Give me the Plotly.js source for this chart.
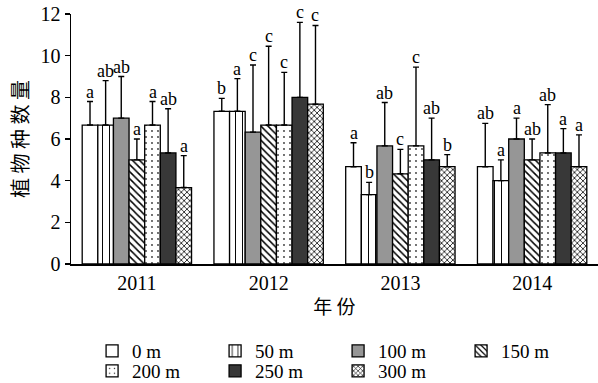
<!DOCTYPE html>
<html>
<head>
<meta charset="utf-8">
<script src="https://cdn.plot.ly/plotly-3.0.1.min.js"></script>
<style>html,body{margin:0;padding:0;background:#fff;}#chart{width:598px;height:383px;}</style>
</head>
<body>
<div id="chart"></div>
<script>
// Categories (years)
var years = ['2011', '2012', '2013', '2014'];
// Series names (distance)
var seriesNames = ['0 m', '50 m', '100 m', '150 m', '200 m', '250 m', '300 m'];
// Mean values
var val0   = [6.67, 7.33, 4.67, 4.67];
var val50  = [6.67, 7.33, 3.33, 4.00];
var val100 = [7.00, 6.33, 5.67, 6.00];
var val150 = [5.00, 6.67, 4.33, 5.00];
var val200 = [6.67, 6.67, 5.67, 5.33];
var val250 = [5.33, 8.00, 5.00, 5.33];
var val300 = [3.67, 7.67, 4.67, 4.67];
// Upper error bar lengths
var err0   = [1.13, 0.62, 1.15, 2.08];
var err50  = [2.13, 1.57, 0.59, 1.00];
var err100 = [2.00, 3.22, 2.08, 1.00];
var err150 = [1.00, 3.78, 1.17, 1.00];
var err200 = [1.13, 2.53, 3.78, 2.32];
var err250 = [2.12, 3.60, 2.00, 1.17];
var err300 = [1.53, 3.78, 0.58, 1.53];
// Significance letters
var let0   = ['a', 'b', 'a', 'ab'];
var let50  = ['ab', 'a', 'b', 'a'];
var let100 = ['ab', 'c', 'ab', 'a'];
var let150 = ['a', 'c', 'c', 'ab'];
var let200 = ['a', 'c', 'c', 'ab'];
var let250 = ['ab', 'c', 'ab', 'a'];
var let300 = ['a', 'c', 'b', 'a'];

var values = [val0, val50, val100, val150, val200, val250, val300];
var errors = [err0, err50, err100, err150, err200, err250, err300];
var letters = [let0, let50, let100, let150, let200, let250, let300];

var serif = 'Liberation Serif';
var cjk = 'Noto Sans CJK SC';
var styles = [
  {color: '#ffffff', pattern: {shape: ''}},
  {color: '#ffffff', pattern: {shape: '|', size: 7, solidity: 0.14, fgcolor: '#000', bgcolor: '#fff', fillmode: 'replace'}},
  {color: '#969696', pattern: {shape: ''}},
  {color: '#ffffff', pattern: {shape: '\\', size: 5, solidity: 0.3, fgcolor: '#000', bgcolor: '#fff', fillmode: 'replace'}},
  {color: '#ffffff', pattern: {shape: '.', size: 6, solidity: 0.07, fgcolor: '#333', bgcolor: '#fff', fillmode: 'replace'}},
  {color: '#383838', pattern: {shape: ''}},
  {color: '#ffffff', pattern: {shape: 'x', size: 4, solidity: 0.35, fgcolor: '#000', bgcolor: '#fff', fillmode: 'replace'}}
];

var bargap = 0.17;
var n = seriesNames.length;
var w = (1 - bargap) / n;

var traces = [];
var annotations = [];
for (var s = 0; s < n; s++) {
  traces.push({
    type: 'bar',
    name: seriesNames[s],
    x: years,
    y: values[s],
    legend: s < 4 ? 'legend' : 'legend2',
    marker: {
      color: styles[s].color,
      pattern: styles[s].pattern,
      line: {color: '#000', width: 1.3}
    },
    error_y: {
      type: 'data', symmetric: false,
      array: errors[s],
      arrayminus: values[s].map(function () { return 0; }),
      color: '#000', thickness: 1.4, width: 3
    }
  });
  for (var i = 0; i < years.length; i++) {
    annotations.push({
      x: i + (s - (n - 1) / 2) * w,
      y: values[s][i] + errors[s][i],
      xref: 'x', yref: 'y',
      text: letters[s][i],
      showarrow: false,
      yanchor: 'bottom',
      yshift: -2,
      font: {family: serif, size: 18, color: '#000'}
    });
  }
}

var legendBase = {
  orientation: 'h', x: 0.04, xanchor: 'left', yanchor: 'top',
  yref: 'container',
  entrywidth: 78, entrywidthmode: 'pixels',
  font: {family: serif, size: 19, color: '#000'},
  bgcolor: 'rgba(0,0,0,0)', traceorder: 'normal'
};
var legend1 = Object.assign({}, legendBase, {y: 0.133});
var legend2 = Object.assign({}, legendBase, {y: 0.081});

var layout = {
  width: 598, height: 383,
  margin: {l: 71, r: 0, t: 14, b: 119},
  paper_bgcolor: '#fff', plot_bgcolor: '#fff',
  barmode: 'group', bargap: bargap, bargroupgap: 0,
  font: {family: serif, color: '#000'},
  xaxis: {
    type: 'category', automargin: false,
    showline: true, linecolor: '#000', linewidth: 1.5,
    ticks: '', showgrid: false, zeroline: false,
    tickfont: {family: serif, size: 20, color: '#000'},
    title: {text: '年 份', font: {family: cjk, size: 19, color: '#000'}, standoff: 8}
  },
  yaxis: {
    range: [0, 12], dtick: 2, automargin: false,
    showline: true, linecolor: '#000', linewidth: 1.5,
    ticks: 'outside', ticklen: 5, tickwidth: 1.5, tickcolor: '#000',
    showgrid: false, zeroline: false,
    tickfont: {family: serif, size: 20, color: '#000'},
    title: {text: '植 物 种 数 量', font: {family: cjk, size: 20, color: '#000'}, standoff: 6}
  },
  legend: legend1,
  legend2: legend2,
  annotations: annotations
};

Plotly.newPlot('chart', traces, layout, {displayModeBar: false, staticPlot: true});
</script>
</body>
</html>
